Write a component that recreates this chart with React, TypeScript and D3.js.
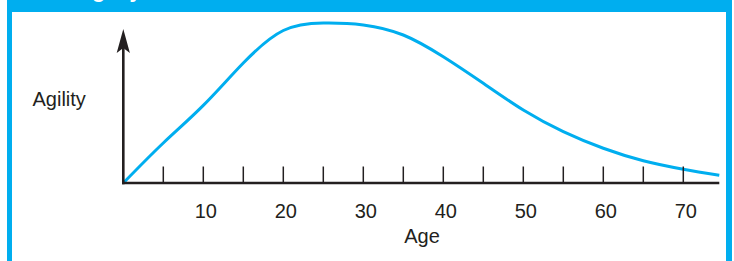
import React, { useRef, useEffect } from 'react';
import * as d3 from 'd3';

// ages (years) and agility (0 = baseline, 100 = peak)
const ages = [0, 5, 10, 15, 20, 25, 30, 35, 40, 45, 50, 55, 60, 65, 70, 74.5];
const agility = [0, 25, 48.5, 75, 95.3, 100, 98.8, 92.5, 78.9, 62.3, 45.6, 32.1, 21.7, 13.9, 8.6, 4.8];
const tickAges = [5, 10, 15, 20, 25, 30, 35, 40, 45, 50, 55, 60, 65, 70];
const labelAges = [10, 20, 30, 40, 50, 60, 70];

const W = 734;
const H = 261;
const BLUE = '#00aeef';
const INK = '#231f20';
const FONT = '"Liberation Sans", Arial, sans-serif';

const AgilityChart: React.FC = () => {
  const svgRef = useRef<SVGSVGElement | null>(null);

  useEffect(() => {
    document.body.style.margin = '0';
    const svg = d3.select(svgRef.current)
      .attr('width', W)
      .attr('height', H)
      .style('display', 'block')
      .style('background', '#fff');

    // frame: blue band on top and blue borders left/right
    svg.append('rect').attr('x', 7).attr('y', 0).attr('width', 725).attr('height', H).attr('fill', BLUE);
    svg.append('rect').attr('x', 12).attr('y', 12).attr('width', 714).attr('height', H).attr('fill', '#fff');
    // title sits mostly above the crop, only the descenders show
    svg.append('text')
      .attr('x', 77).attr('y', -2.5)
      .attr('fill', '#fff')
      .style('font-family', FONT)
      .style('font-weight', 'bold')
      .style('font-size', '21px')
      .text('Agility');

    const x = d3.scaleLinear().domain([0, 74.5]).range([123.3, 719.3]);
    const y = d3.scaleLinear().domain([0, 100]).range([183, 23]);

    const g = svg.append('g');

    // curve
    const line = d3.line<number>()
      .x((d, i) => x(ages[i]))
      .y(d => y(d))
      .curve(d3.curveNatural);

    g.append('path')
      .datum(agility)
      .attr('fill', 'none')
      .attr('stroke', BLUE)
      .attr('stroke-width', 3)
      .attr('d', line);

    // ticks
    g.selectAll('line.tick')
      .data(tickAges)
      .enter()
      .append('line')
      .attr('class', 'tick')
      .attr('x1', d => x(d))
      .attr('x2', d => x(d))
      .attr('y1', y(0) - 16.5)
      .attr('y2', y(0))
      .attr('stroke', INK)
      .attr('stroke-width', 1.5);

    // x axis
    g.append('line')
      .attr('x1', x(0) - 1.2)
      .attr('x2', x(74.5))
      .attr('y1', y(0))
      .attr('y2', y(0))
      .attr('stroke', INK)
      .attr('stroke-width', 2.6);

    // y axis with arrow
    const ax = x(0);
    g.append('line')
      .attr('x1', ax)
      .attr('x2', ax)
      .attr('y1', y(0) + 1.3)
      .attr('y2', 46)
      .attr('stroke', INK)
      .attr('stroke-width', 2.6);

    g.append('path')
      .attr('d', `M${ax},29 L${ax + 6.6},53 L${ax},48 L${ax - 6.6},53 Z`)
      .attr('fill', INK);

    // tick labels
    g.selectAll('text.lab')
      .data(labelAges)
      .enter()
      .append('text')
      .attr('class', 'lab')
      .attr('x', d => x(d) + 2.5)
      .attr('y', 217.5)
      .attr('text-anchor', 'middle')
      .attr('fill', INK)
      .style('font-family', FONT)
      .style('font-size', '20px')
      .text(d => d);

    g.append('text')
      .attr('x', 422)
      .attr('y', 243)
      .attr('text-anchor', 'middle')
      .attr('fill', INK)
      .style('font-family', FONT)
      .style('font-size', '20px')
      .text('Age');

    g.append('text')
      .attr('x', 32.5)
      .attr('y', 106)
      .attr('fill', INK)
      .style('font-family', FONT)
      .style('font-size', '20px')
      .text('Agility');

    return () => {
      svg.selectAll('*').remove();
    };
  }, []);

  return <svg ref={svgRef}></svg>;
};

export default function App() {
  return <AgilityChart />;
}
